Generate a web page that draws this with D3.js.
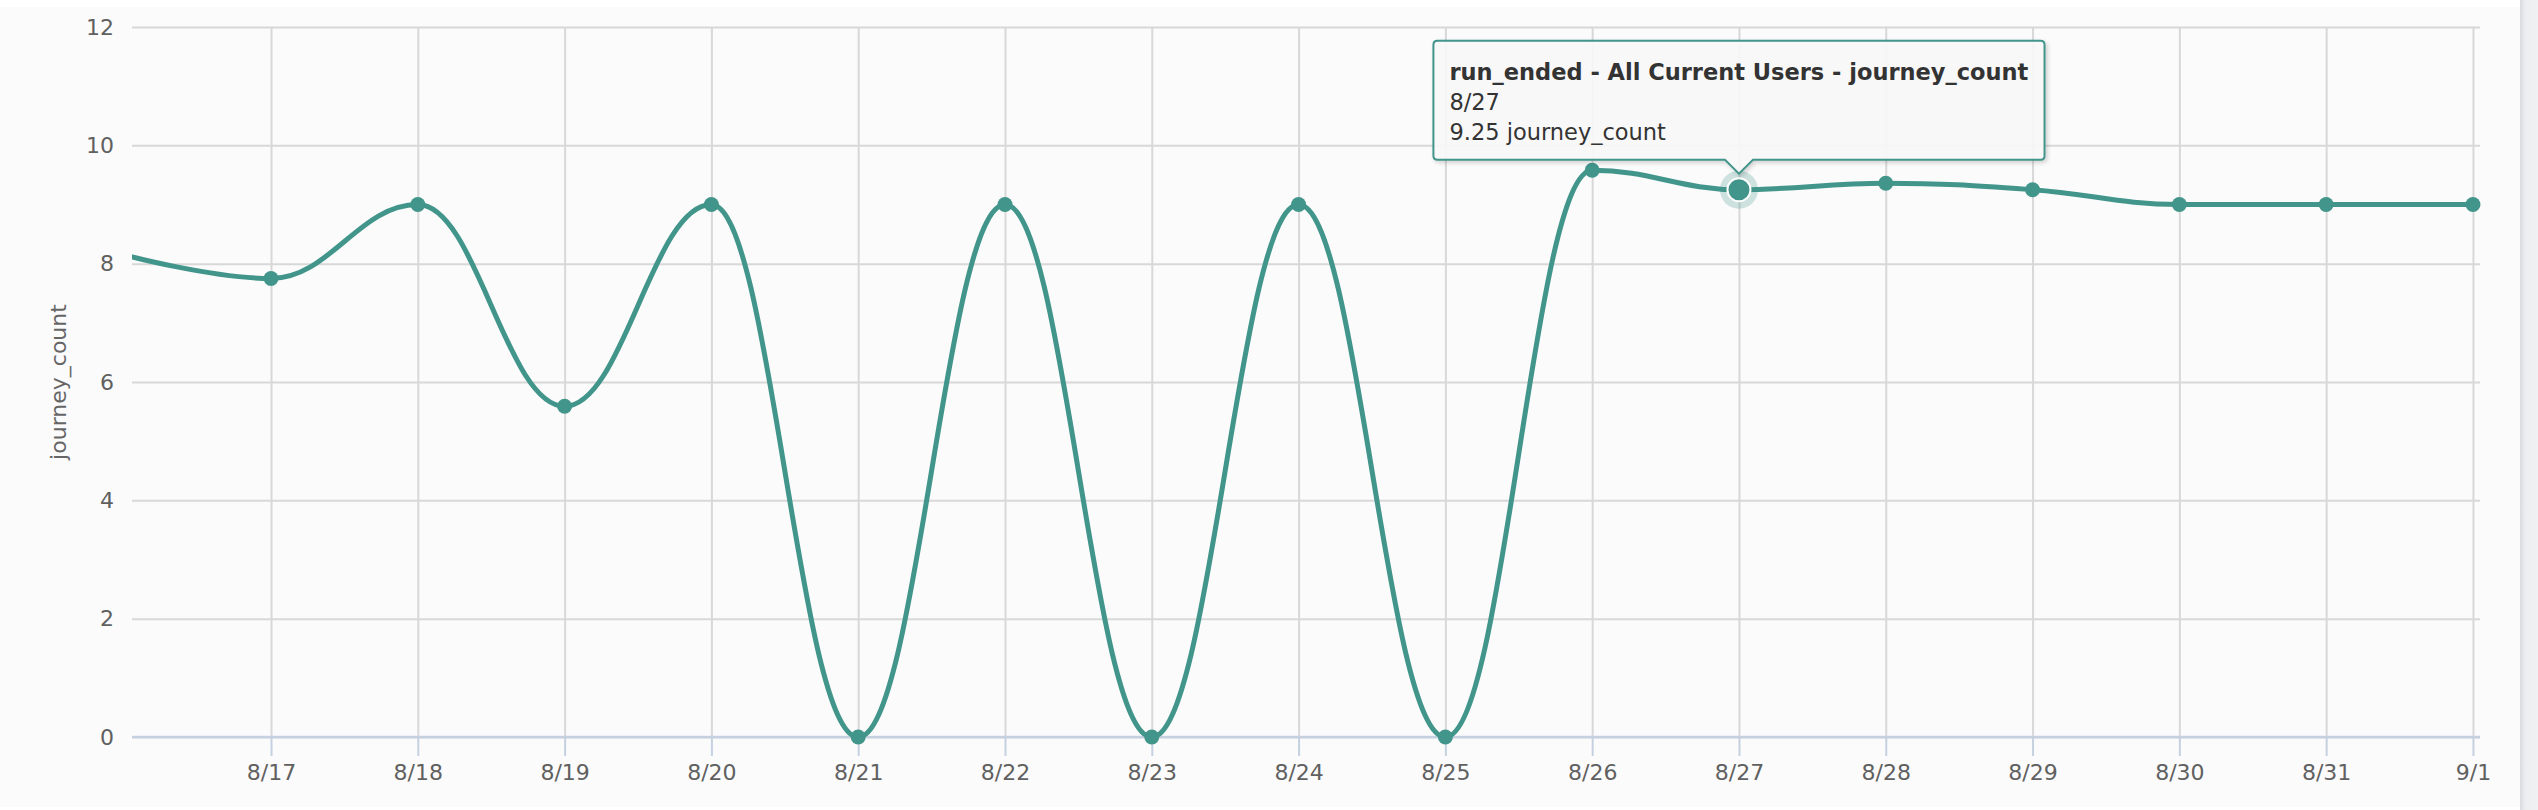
<!DOCTYPE html>
<html>
<head>
<meta charset="utf-8">
<script src="https://cdn.jsdelivr.net/npm/d3@7"></script>
<style>
  html, body { margin: 0; padding: 0; background: #ffffff; }
  svg { display: block; }
</style>
</head>
<body>
<svg id="chart" width="2538" height="810"></svg>
<script>
// ---------------- data ----------------
const dates  = ["8/16","8/17","8/18","8/19","8/20","8/21","8/22","8/23","8/24","8/25","8/26","8/27","8/28","8/29","8/30","8/31","9/1"];
const values = [8.15, 7.75, 9.0, 5.59, 9.0, 0, 9.0, 0, 9.0, 0, 9.58, 9.25, 9.36, 9.25, 9.0, 9.0, 9.0];
const yTicks = [0, 2, 4, 6, 8, 10, 12];
const xTickIdx = [1,2,3,4,5,6,7,8,9,10,11,12,13,14,15,16];
const seriesName = "run_ended - All Current Users - journey_count";
const metric = "journey_count";
const hoverIndex = 11;

// ---------------- layout ----------------
const W = 2538, H = 810;
const plot = { left: 132, right: 2480, top: 27, bottom: 737 };
const color = "#42958a";
const font = "'DejaVu Sans', 'Open Sans', sans-serif";

const svg = d3.select("#chart");

// card background
svg.append("rect").attr("x", 0).attr("y", 0).attr("width", W).attr("height", H).attr("fill", "#ffffff");
svg.append("rect").attr("x", 0).attr("y", 7).attr("width", 2520).attr("height", 800).attr("fill", "#fbfbfb");
const defs = svg.append("defs");
const grad = defs.append("linearGradient").attr("id", "edge").attr("x1", 0).attr("x2", 1);
grad.append("stop").attr("offset", 0).attr("stop-color", "#d9dcdf");
grad.append("stop").attr("offset", 0.3).attr("stop-color", "#eceef0");
grad.append("stop").attr("offset", 1).attr("stop-color", "#f0f1f3");
svg.append("rect").attr("x", 2520).attr("y", 0).attr("width", 18).attr("height", H).attr("fill", "url(#edge)");

const x = d3.scaleLinear().domain([0.053, 16.048]).range([plot.left, plot.right]);
const y = d3.scaleLinear().domain([0, 12]).range([plot.bottom, plot.top]);

// horizontal grid + y labels
const yAxis = svg.append("g")
  .attr("transform", `translate(${plot.left},0)`)
  .call(d3.axisLeft(y).tickValues(yTicks).tickSize(-(plot.right - plot.left)).tickPadding(18).tickFormat(d3.format("d")));
yAxis.select(".domain").remove();
yAxis.selectAll(".tick line").attr("stroke", "#d8d8d8").attr("stroke-width", 2);
yAxis.selectAll(".tick text").attr("fill", "#606060").style("font-family", font).style("font-size", "22px");

// vertical grid
const xGrid = svg.append("g")
  .attr("transform", `translate(0,${plot.top})`)
  .call(d3.axisBottom(x).tickValues(xTickIdx).tickSize(plot.bottom - plot.top).tickFormat(""));
xGrid.select(".domain").remove();
xGrid.selectAll(".tick line").attr("stroke", "#d8d8d8").attr("stroke-width", 2);

// x axis
const xAxis = svg.append("g")
  .attr("transform", `translate(0,${plot.bottom})`)
  .call(d3.axisBottom(x).tickValues(xTickIdx).tickSize(19).tickPadding(8).tickFormat(i => dates[i]));
xAxis.select(".domain").attr("stroke", "#c5d1e1").attr("stroke-width", 2.5)
  .attr("d", `M${plot.left},0H${plot.right}`);
xAxis.selectAll(".tick line").attr("stroke", "#c5d1e1").attr("stroke-width", 2);
xAxis.selectAll(".tick text").attr("fill", "#606060").style("font-family", font).style("font-size", "22px");

// y axis title
svg.append("text")
  .attr("transform", `translate(66,${(plot.top + plot.bottom) / 2}) rotate(-90)`)
  .attr("text-anchor", "middle")
  .attr("fill", "#666666")
  .style("font-family", font).style("font-size", "22px")
  .text(metric);

// clip
svg.append("clipPath").attr("id", "clip").append("rect")
  .attr("x", plot.left).attr("y", plot.top - 20)
  .attr("width", plot.right - plot.left + 20).attr("height", plot.bottom - plot.top + 40);

// Highcharts-like spline
const pts = values.map((v, i) => ({ x: x(i), y: y(v) }));
function splinePath(p) {
  const sm = 1.5, den = 2.5;
  for (let i = 1; i < p.length - 1; i++) {
    const a = p[i - 1], b = p[i], c = p[i + 1];
    let lcx = (sm * b.x + a.x) / den, lcy = (sm * b.y + a.y) / den;
    let rcx = (sm * b.x + c.x) / den, rcy = (sm * b.y + c.y) / den;
    if (rcx !== lcx) {
      const corr = ((rcy - lcy) * (rcx - b.x)) / (rcx - lcx) + b.y - rcy;
      lcy += corr; rcy += corr;
    }
    if (lcy > a.y && lcy > b.y) { lcy = Math.max(a.y, b.y); rcy = 2 * b.y - lcy; }
    else if (lcy < a.y && lcy < b.y) { lcy = Math.min(a.y, b.y); rcy = 2 * b.y - lcy; }
    if (rcy > c.y && rcy > b.y) { rcy = Math.max(c.y, b.y); lcy = 2 * b.y - rcy; }
    else if (rcy < c.y && rcy < b.y) { rcy = Math.min(c.y, b.y); lcy = 2 * b.y - rcy; }
    b.lc = [lcx, lcy]; b.rc = [rcx, rcy];
  }
  const path = d3.path();
  path.moveTo(p[0].x, p[0].y);
  for (let i = 1; i < p.length; i++) {
    const prev = p[i - 1], cur = p[i];
    const c1 = prev.rc || [prev.x, prev.y];
    const c2 = cur.lc || [cur.x, cur.y];
    path.bezierCurveTo(c1[0], c1[1], c2[0], c2[1], cur.x, cur.y);
  }
  return path.toString();
}

const g = svg.append("g").attr("clip-path", "url(#clip)");
g.append("path").attr("d", splinePath(pts))
  .attr("fill", "none").attr("stroke", color).attr("stroke-width", 5).attr("stroke-linejoin", "round");

g.selectAll("circle.pt").data(values.map((v, i) => ({ v, i })).filter(d => d.i !== hoverIndex))
  .enter().append("circle").attr("class", "pt")
  .attr("cx", d => x(d.i)).attr("cy", d => y(d.v)).attr("r", 7.5).attr("fill", color);

// hovered point
const hx = x(hoverIndex), hy = y(values[hoverIndex]);
g.append("circle").attr("cx", hx).attr("cy", hy).attr("r", 19).attr("fill", color).attr("fill-opacity", 0.25);
g.append("circle").attr("cx", hx).attr("cy", hy).attr("r", 11.5).attr("fill", color).attr("stroke", "#ffffff").attr("stroke-width", 2);

// tooltip
const tip = svg.append("g");
const f = defs.append("filter").attr("id", "shadow").attr("x", "-10%").attr("y", "-20%").attr("width", "120%").attr("height", "150%");
f.append("feDropShadow").attr("dx", 2).attr("dy", 2).attr("stdDeviation", 2).attr("flood-color", "#000").attr("flood-opacity", 0.18);

const lines = [
  { t: seriesName, w: "bold" },
  { t: dates[hoverIndex], w: "normal" },
  { t: `${values[hoverIndex]} ${metric}`, w: "normal" }
];
const txt = tip.append("g");
lines.forEach((l, k) => {
  txt.append("text").attr("x", 0).attr("y", k * 30)
    .attr("fill", "#333333").style("font-family", font).style("font-size", "22.5px")
    .style("font-weight", l.w).text(l.t);
});
const bb = txt.node().getBBox();
const padX = 16, boxW = bb.width + 2 * padX, boxH = 119;
const boxBottom = hy - 30, boxTop = boxBottom - boxH;
const boxLeft = hx - boxW / 2;
const ptrW = 14, ptrH = 14;
const tipPath = `M${boxLeft + 4},${boxTop} H${boxLeft + boxW - 4} Q${boxLeft + boxW},${boxTop} ${boxLeft + boxW},${boxTop + 4}
  V${boxBottom - 4} Q${boxLeft + boxW},${boxBottom} ${boxLeft + boxW - 4},${boxBottom}
  H${hx + ptrW} L${hx},${boxBottom + ptrH} L${hx - ptrW},${boxBottom}
  H${boxLeft + 4} Q${boxLeft},${boxBottom} ${boxLeft},${boxBottom - 4} V${boxTop + 4} Q${boxLeft},${boxTop} ${boxLeft + 4},${boxTop} Z`;
tip.insert("path", ":first-child").attr("d", tipPath)
  .attr("fill", "#f9f9f9").attr("fill-opacity", 0.92)
  .attr("stroke", color).attr("stroke-width", 2).attr("filter", "url(#shadow)");
txt.attr("transform", `translate(${boxLeft + padX},${boxTop + 39})`);
</script>
</body>
</html>
